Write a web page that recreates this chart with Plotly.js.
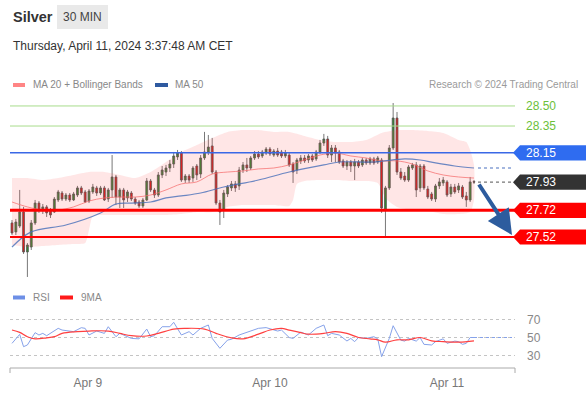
<!DOCTYPE html>
<html>
<head>
<meta charset="utf-8">
<script src="https://cdn.plot.ly/plotly-3.0.1.min.js"></script>
<style>
html,body{margin:0;padding:0;background:#ffffff;}
#chart{width:588px;height:395px;}
</style>
</head>
<body>
<div id="chart"></div>
<script>
// ---------- DATA ----------
const candleOpen = [
27.625,27.558,27.602,27.707,27.408,27.445,27.625,27.774,27.722,27.745,
27.715,27.707,27.797,27.849,27.804,27.834,27.797,27.834,27.887,27.857,
27.789,27.857,27.887,27.849,27.887,27.804,27.872,27.969,27.819,27.872,
27.812,27.849,27.804,27.782,27.752,27.797,27.939,27.872,27.834,27.984,
28.006,28.036,28.066,28.119,28.148,27.946,27.976,27.961,28.051,27.991,
28.111,28.156,28.201,28.006,27.774,27.722,27.842,27.887,27.917,27.902,
28.021,28.059,28.036,28.111,28.141,28.126,28.148,28.178,28.133,28.163,
28.156,28.126,28.133,28.066,28.021,28.089,28.111,28.096,28.126,28.104,
28.156,28.223,28.253,28.133,28.186,28.156,28.089,28.051,28.081,28.051,
28.081,28.059,28.096,28.074,28.104,28.081,28.096,27.722,27.887,28.186,
28.410,28.006,27.976,27.946,28.036,28.059,27.887,28.051,27.879,27.842,
27.804,27.902,27.924,27.932,27.842,27.894,27.872,27.894,27.827,27.797,
27.935];
const candleHigh = [
27.647,27.655,27.872,27.745,27.475,27.647,27.797,27.789,27.767,27.759,
27.737,27.819,27.872,27.864,27.849,27.849,27.857,27.902,27.902,27.872,
27.879,27.917,27.902,27.902,27.902,27.887,28.133,27.984,27.887,27.887,
27.872,27.864,27.819,27.797,27.812,27.961,27.954,27.887,28.006,28.051,
28.059,28.096,28.156,28.171,28.163,27.991,27.991,28.051,28.066,28.133,
28.306,28.283,28.261,28.021,27.797,27.872,27.909,27.939,27.939,28.044,
28.081,28.111,28.126,28.163,28.163,28.171,28.193,28.193,28.178,28.186,
28.171,28.171,28.148,28.081,28.111,28.133,28.133,28.141,28.141,28.171,
28.246,28.291,28.276,28.208,28.208,28.171,28.104,28.096,28.096,28.104,
28.096,28.111,28.111,28.119,28.119,28.126,28.111,27.902,28.208,28.522,
28.455,28.036,28.006,28.059,28.074,28.081,28.066,28.066,27.902,27.857,
27.917,27.961,27.969,27.946,27.917,27.917,27.924,27.909,27.857,27.969,
27.946];
const candleLow = [
27.535,27.535,27.587,27.393,27.221,27.423,27.610,27.700,27.692,27.670,
27.662,27.700,27.782,27.789,27.789,27.782,27.789,27.819,27.834,27.774,
27.774,27.842,27.827,27.834,27.789,27.782,27.812,27.759,27.737,27.737,
27.782,27.789,27.759,27.737,27.737,27.789,27.857,27.812,27.819,27.961,
27.976,28.006,28.036,28.096,27.932,27.924,27.924,27.932,27.946,27.961,
28.096,28.133,27.991,27.759,27.610,27.662,27.819,27.864,27.857,27.872,
27.999,28.006,28.021,28.096,28.104,28.111,28.133,28.126,28.119,28.119,
28.111,28.111,28.044,27.924,27.991,28.066,28.074,28.074,28.081,28.089,
28.141,28.201,28.111,28.081,28.081,28.066,28.036,28.021,28.006,27.946,
28.036,28.044,28.059,28.059,28.059,28.066,27.700,27.520,27.872,28.171,
27.984,27.946,27.932,27.932,28.021,27.819,27.857,27.872,27.804,27.789,
27.782,27.879,27.902,27.819,27.819,27.842,27.849,27.804,27.745,27.782,
27.917];
const candleClose = [
27.550,27.632,27.707,27.408,27.460,27.625,27.774,27.722,27.745,27.700,
27.685,27.804,27.857,27.804,27.834,27.797,27.842,27.887,27.849,27.782,
27.864,27.894,27.849,27.887,27.797,27.872,27.969,27.819,27.872,27.797,
27.857,27.804,27.774,27.752,27.797,27.939,27.872,27.834,27.984,28.021,
28.036,28.066,28.126,28.148,27.946,27.976,27.946,28.036,27.984,28.111,
28.156,28.193,28.006,27.774,27.707,27.849,27.894,27.917,27.887,28.021,
28.059,28.036,28.111,28.141,28.119,28.156,28.178,28.141,28.163,28.133,
28.126,28.148,28.059,28.006,28.096,28.111,28.089,28.126,28.096,28.156,
28.223,28.253,28.133,28.186,28.148,28.081,28.051,28.081,28.051,28.081,
28.051,28.096,28.074,28.104,28.074,28.111,27.737,27.887,28.186,28.410,
28.006,27.961,27.946,28.044,28.059,27.872,28.051,27.887,27.819,27.804,
27.902,27.932,27.946,27.834,27.894,27.857,27.902,27.819,27.797,27.932,
27.930];

const ma20Idx = [0,4,8,12,16,20,24,28,32,36,40,44,48,52,56,60,64,68,72,76,80,84,88,92,96,100,104,108,112,116,120];
const ma20 = [27.782,27.745,27.722,27.722,27.745,27.789,27.812,27.819,27.819,27.834,27.872,27.917,27.932,27.991,28.006,28.014,28.029,28.036,28.059,28.096,28.133,28.148,28.126,28.111,28.089,28.089,28.066,28.014,27.984,27.969,27.961];

const ma50Idx = [0,5,14,23,27,31,36,40,44,49,55,64,72,81,85,94,102,106,110,115,120];
const ma50 = [27.445,27.558,27.610,27.700,27.767,27.774,27.782,27.812,27.827,27.849,27.894,27.946,28.006,28.059,28.081,28.081,28.104,28.096,28.074,28.051,28.036];

const bbUpIdx = [0,4,8,12,16,20,24,28,32,36,40,44,48,52,56,60,64,68,72,76,80,84,88,92,96,100,104,108,112,116,118,119,120];
const bbUp = [27.961,27.961,27.946,27.961,27.984,28.006,28.006,27.984,27.961,28.006,28.081,28.156,28.208,28.261,28.306,28.320,28.320,28.306,28.306,28.276,28.246,28.231,28.231,28.246,28.298,28.320,28.320,28.313,28.298,28.246,28.231,28.171,28.059];
const bbLowIdx = [0,4,8,12,16,19,20,21,24,28,32,36,40,44,48,52,56,60,64,68,72,73,74,76,80,84,88,92,95,97,100,104,108,112,116,119,120];
const bbLow = [27.460,27.445,27.452,27.460,27.467,27.475,27.573,27.677,27.685,27.685,27.685,27.685,27.685,27.692,27.707,27.707,27.745,27.759,27.759,27.759,27.752,27.797,27.917,27.939,27.946,27.946,27.939,27.939,27.924,27.812,27.745,27.722,27.715,27.692,27.692,27.707,27.797];

const rsiIdx = [0,2,3,4,6,7,8,9,12,13,16,18,19,20,22,24,25,27,28,30,31,33,35,36,37,39,41,42,44,46,47,49,51,52,54,56,57,59,61,64,66,69,70,72,73,75,77,79,81,82,83,85,87,88,89,90,92,94,95,96,98,99,101,102,103,105,106,107,109,110,112,113,115,116,117,118,119,120];
const rsi = [43.5,53.5,39.8,41.7,55.4,52.8,54.6,52,60.2,58.3,56.5,60.9,60.2,52.8,57.2,54.6,62,50.9,54.6,50.9,49,48.5,59.4,50.9,52,62,62,66.9,52.8,56.5,52.8,60.2,63.9,49,38,47.2,48,52.8,55.7,60.2,61,57.2,58.3,50,49,56,52.8,60.2,63.9,52,54.6,52.8,46.1,49,45.4,50,49,50.9,48.5,28.7,49,63.1,47,46,49,46,50,42.4,41.7,45.4,48.5,43.5,46,45.4,42.4,43.5,50,50];
const rsiMaIdx = [0,2,4,6,9,11,13,17,20,25,28,31,35,38,42,45,50,53,57,60,64,67,70,72,75,77,81,84,87,90,93,95,97,100,103,106,109,112,116,120];
const rsiMa = [58.3,55.7,50.9,48.5,49.6,50.9,54.6,56.5,57.2,57.2,54.6,52,51.7,54.6,59.4,60.2,59.4,54.6,49.6,48.5,53.7,58.3,60.2,58.3,55.4,53.7,54.6,56.5,54.6,50,48.5,47.4,44.8,47.4,47.4,50,46.3,45.4,44.8,46.3];

const tickLabels = ['Apr 9','Apr 10','Apr 11'];
const tickPos = [19.7, 67, 113];

const resistance = [28.50, 28.35];
const pivotLevel = 28.15;
const lastPrice = 27.93;
const supports = [27.72, 27.52];
const rsiLevels = [70, 50, 30];

// ---------- LAYOUT HELPERS ----------
const W = 588, H = 395;
const px = v => v / W;            // pixel x -> paper
const py = v => 1 - v / H;        // pixel y -> paper
const FONT = 'Liberation Sans, Arial, sans-serif';
const idx = candleClose.map((_, i) => i);

const traces = [];
traces.push({
  type: 'scatter', mode: 'lines', xaxis: 'x', yaxis: 'y',
  x: bbUpIdx.concat(bbLowIdx.slice().reverse()),
  y: bbUp.concat(bbLow.slice().reverse()),
  fill: 'toself', fillcolor: 'rgba(255,80,80,0.14)',
  line: {width: 0, shape: 'spline', smoothing: 0.6}, hoverinfo: 'skip'
});
traces.push({
  type: 'scatter', mode: 'lines', x: ma20Idx, y: ma20, xaxis: 'x', yaxis: 'y',
  line: {color: 'rgba(245,110,110,0.75)', width: 1, shape: 'spline'}, hoverinfo: 'skip'
});
traces.push({
  type: 'scatter', mode: 'lines', x: ma50Idx, y: ma50, xaxis: 'x', yaxis: 'y',
  line: {color: 'rgba(70,110,185,0.8)', width: 1.2, shape: 'spline'}, hoverinfo: 'skip'
});
traces.push({
  type: 'candlestick', x: idx, open: candleOpen, high: candleHigh, low: candleLow, close: candleClose,
  xaxis: 'x', yaxis: 'y', whiskerwidth: 0,
  increasing: {line: {color: '#555555', width: 0.8}, fillcolor: '#2f8a2f'},
  decreasing: {line: {color: '#555555', width: 0.8}, fillcolor: '#e01515'},
  hoverinfo: 'skip'
});
traces.push({
  type: 'scatter', mode: 'lines', x: rsiIdx, y: rsi, xaxis: 'x', yaxis: 'y2',
  line: {color: '#86a2ea', width: 1}, hoverinfo: 'skip'
});
traces.push({
  type: 'scatter', mode: 'lines', x: rsiMaIdx, y: rsiMa, xaxis: 'x', yaxis: 'y2',
  line: {color: '#ff4040', width: 1.2, shape: 'spline'}, hoverinfo: 'skip'
});

const shapes = [];
const annotations = [];
const X0 = px(10), X1 = px(515);

// header
shapes.push({type:'rect', xref:'paper', yref:'paper', x0:px(57), x1:px(108), y0:py(29), y1:py(5), fillcolor:'#e9e9e9', line:{width:0}, layer:'below'});
annotations.push({xref:'paper', yref:'paper', x:px(11), y:py(17), xanchor:'left', yanchor:'middle', text:'<b>Silver</b>', showarrow:false, font:{family:FONT, size:14.5, color:'#333'}});
annotations.push({xref:'paper', yref:'paper', x:px(82.5), y:py(17), xanchor:'center', yanchor:'middle', text:'30 MIN', showarrow:false, font:{family:FONT, size:12, color:'#444'}});
annotations.push({xref:'paper', yref:'paper', x:px(11), y:py(46), xanchor:'left', yanchor:'middle', text:'Thursday, April 11, 2024 3:37:48 AM CET', showarrow:false, font:{family:FONT, size:12, color:'#333'}});

// legends
shapes.push({type:'rect', xref:'paper', yref:'paper', x0:px(13), x1:px(25), y0:py(87), y1:py(83), fillcolor:'#ff8585', line:{width:0}});
annotations.push({xref:'paper', yref:'paper', x:px(31), y:py(84.5), xanchor:'left', yanchor:'middle', text:'MA 20 + Bollinger Bands', showarrow:false, font:{family:FONT, size:10, color:'#888'}});
shapes.push({type:'rect', xref:'paper', yref:'paper', x0:px(155), x1:px(168), y0:py(87), y1:py(83), fillcolor:'#2f5aa0', line:{width:0}});
annotations.push({xref:'paper', yref:'paper', x:px(173), y:py(84.5), xanchor:'left', yanchor:'middle', text:'MA 50', showarrow:false, font:{family:FONT, size:10, color:'#888'}});
annotations.push({xref:'paper', yref:'paper', x:px(580), y:py(84.5), xanchor:'right', yanchor:'middle', text:'Research © 2024 Trading Central', showarrow:false, font:{family:FONT, size:10, color:'#9a9a9a'}});

shapes.push({type:'rect', xref:'paper', yref:'paper', x0:px(13), x1:px(25), y0:py(299.5), y1:py(295.5), fillcolor:'#6d8fe6', line:{width:0}});
annotations.push({xref:'paper', yref:'paper', x:px(31), y:py(297.5), xanchor:'left', yanchor:'middle', text:'RSI', showarrow:false, font:{family:FONT, size:10, color:'#888'}});
shapes.push({type:'rect', xref:'paper', yref:'paper', x0:px(60), x1:px(73), y0:py(299.5), y1:py(295.5), fillcolor:'#ff1a1a', line:{width:0}});
annotations.push({xref:'paper', yref:'paper', x:px(79), y:py(297.5), xanchor:'left', yanchor:'middle', text:'9MA', showarrow:false, font:{family:FONT, size:10, color:'#888'}});

// level lines
resistance.forEach(v => {
  shapes.push({type:'line', xref:'paper', yref:'y', x0:X0, x1:X1, y0:v, y1:v, line:{color:'#a8dc8c', width:1}, layer:'above'});
  annotations.push({xref:'paper', yref:'y', x:px(524), y:v, xanchor:'left', yanchor:'middle', text:v.toFixed(2), showarrow:false, font:{family:FONT, size:12, color:'#6cbf3a'}});
});
shapes.push({type:'line', xref:'paper', yref:'y', x0:X0, x1:X1, y0:pivotLevel, y1:pivotLevel, line:{color:'#3a68e6', width:1.5}, layer:'above'});
shapes.push({type:'line', xref:'paper', yref:'y', x0:X0, x1:X1, y0:supports[0], y1:supports[0], line:{color:'#ff0000', width:3}, layer:'above'});
shapes.push({type:'line', xref:'paper', yref:'y', x0:X0, x1:X1, y0:supports[1], y1:supports[1], line:{color:'#ff0000', width:2}, layer:'above'});

// dotted extensions
shapes.push({type:'line', xref:'paper', yref:'y', x0:px(478), x1:px(512), y0:lastPrice, y1:lastPrice, line:{color:'#777', width:1.2, dash:'dot'}});
shapes.push({type:'line', xref:'paper', yref:'y', x0:px(478), x1:px(512), y0:ma50[ma50.length-1], y1:ma50[ma50.length-1], line:{color:'#4a70c0', width:1.2, dash:'dot'}});

// label boxes
const hh = 0.057;
function tag(v, color) {
  const a = px(513), b = px(520), c = px(586);
  shapes.push({type:'path', xref:'paper', yref:'y',
    path:`M ${a},${v} L ${b},${v+hh} L ${c},${v+hh} L ${c},${v-hh} L ${b},${v-hh} Z`,
    fillcolor:color, line:{width:0}, layer:'above'});
  annotations.push({xref:'paper', yref:'y', x:px(524), y:v, xanchor:'left', yanchor:'middle', text:v.toFixed(2), showarrow:false, font:{family:FONT, size:12, color:'#ffffff'}});
}
tag(pivotLevel, '#2f6cf0');
tag(lastPrice, '#333333');
tag(supports[0], '#ff0000');
tag(supports[1], '#ff0000');

// forecast arrow
annotations.push({xref:'paper', yref:'y', x:px(512), y:27.535, ax:-34, ay:-52, text:'', showarrow:true,
  arrowhead:2, arrowsize:1.25, arrowwidth:4, arrowcolor:'#2d5c9e', standoff:0});

// RSI guide lines
rsiLevels.forEach(v => {
  shapes.push({type:'line', xref:'paper', yref:'y2', x0:X0, x1:X1, y0:v, y1:v, line:{color:'#c4c4c4', width:1, dash:'dot'}, layer:'below'});
  annotations.push({xref:'paper', yref:'y2', x:px(525), y:v, xanchor:'left', yanchor:'middle', text:String(v), showarrow:false, font:{family:FONT, size:12, color:'#888'}});
});
shapes.push({type:'line', xref:'paper', yref:'y2', x0:px(474), x1:px(512), y0:rsi[rsi.length-1], y1:rsi[rsi.length-1], line:{color:'#86a2ea', width:1.2, dash:'dot'}});

// bottom axis line + end ticks
shapes.push({type:'line', xref:'paper', yref:'paper', x0:X0, x1:X1, y0:py(368), y1:py(368), line:{color:'#aaaaaa', width:1}});
shapes.push({type:'line', xref:'paper', yref:'paper', x0:X0, x1:X0, y0:py(368), y1:py(373), line:{color:'#aaaaaa', width:1}});
shapes.push({type:'line', xref:'paper', yref:'paper', x0:X1, x1:X1, y0:py(368), y1:py(373), line:{color:'#aaaaaa', width:1}});

const layout = {
  width: W, height: H,
  margin: {l:0, r:0, t:0, b:0},
  paper_bgcolor: '#ffffff', plot_bgcolor: 'rgba(0,0,0,0)',
  showlegend: false,
  font: {family: FONT},
  xaxis: {
    domain: [X0, X1], range: [-0.52, 130.65], anchor: 'y2',
    showgrid: false, zeroline: false, showline: false,
    rangeslider: {visible: false},
    tickmode: 'array', tickvals: tickPos, ticktext: tickLabels,
    ticks: 'outside', ticklen: 4, tickcolor: 'rgba(0,0,0,0)',
    tickfont: {family: FONT, size: 12, color: '#777'}
  },
  yaxis: {
    domain: [1 - 283/H, 1 - 95/H], range: [27.176, 28.582],
    showgrid: false, zeroline: false, showticklabels: false, showline: false
  },
  yaxis2: {
    domain: [1 - 368/H, 1 - 308/H], range: [16.1, 82.8],
    showgrid: false, zeroline: false, showticklabels: false, showline: false
  },
  shapes: shapes,
  annotations: annotations
};

Plotly.newPlot('chart', traces, layout, {displayModeBar: false, staticPlot: true});
</script>
</body>
</html>
